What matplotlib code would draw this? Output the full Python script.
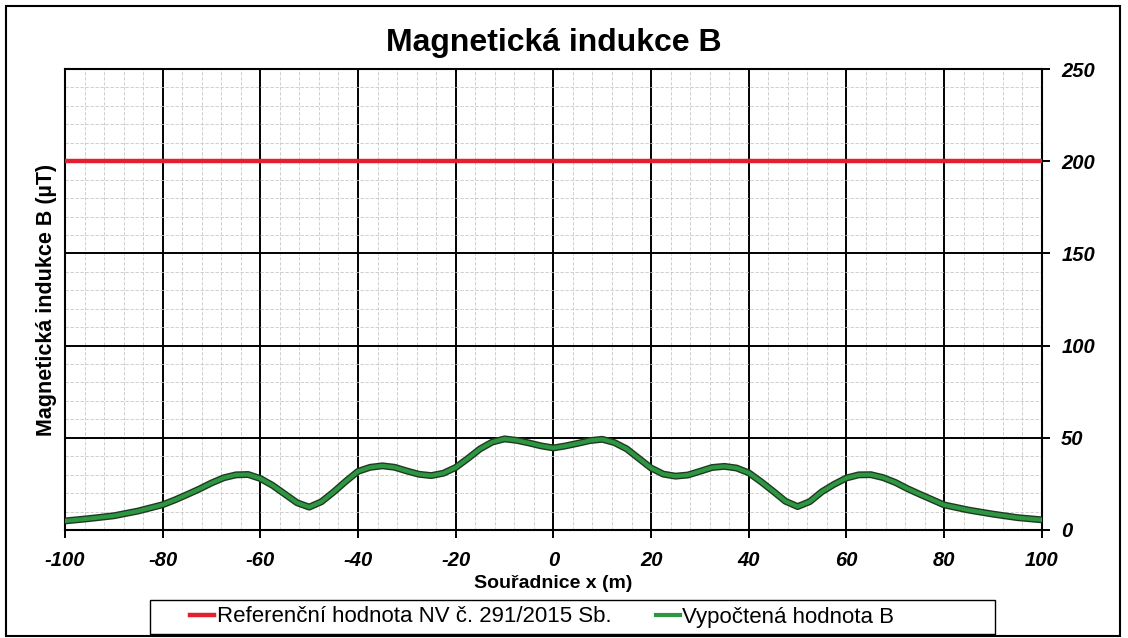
#!/usr/bin/env python3

import matplotlib.pyplot as plt
from matplotlib.patches import Rectangle
from matplotlib.ticker import MultipleLocator

# Souřadnice x (m) a vypočtená magnetická indukce B (uT)
x_pos = [-100, -95, -90, -85, -80, -77.5, -75, -72.5, -70, -67.5, -65, -62.5,
         -60, -57.5, -55, -52.5, -50, -47.5, -45, -42.5, -40, -37.5, -35,
         -32.5, -30, -27.5, -25, -22.5, -20, -17.5, -15, -12.5, -10, -7.5,
         -5, -2.5, 0, 2.5, 5, 7.5, 10, 12.5, 15, 17.5, 20, 22.5, 25, 27.5,
         30, 32.5, 35, 37.5, 40, 42.5, 45, 47.5, 50, 52.5, 55, 57.5, 60,
         62.5, 65, 67.5, 70, 72.5, 75, 77.5, 80, 85, 90, 95, 100]
b_calc = [4.9, 6.2, 7.7, 10.3, 13.7, 16.3, 19.2, 22.2, 25.5, 28.3, 29.9, 30.1,
          27.9, 24.2, 19.5, 14.8, 12.4, 15.3, 20.6, 26.4, 31.8, 34.0, 34.8,
          34.0, 32.0, 30.2, 29.5, 30.8, 33.9, 38.8, 44.0, 47.7, 49.4, 48.6,
          47.2, 45.6, 44.5, 45.6, 47.0, 48.5, 49.2, 47.4, 44.0, 38.8, 33.6,
          30.3, 29.2, 29.8, 31.8, 33.9, 34.5, 33.6, 31.0, 26.2, 21.0, 15.6,
          12.7, 15.4, 20.8, 24.8, 28.2, 29.9, 30.0, 28.4, 25.8, 22.4, 19.4,
          16.5, 13.6, 10.8, 8.6, 6.7, 5.5]

# Referenční hodnota podle NV č. 291/2015 Sb.
x_ref = [-100, 100]
b_ref = [200, 200]

x_ticks = [-100, -80, -60, -40, -20, 0, 20, 40, 60, 80, 100]
y_ticks = [0, 50, 100, 150, 200, 250]

plt.rcParams['font.family'] = ['Liberation Sans', 'DejaVu Sans']
plt.rcParams['axes.unicode_minus'] = False  # obyčejný spojovník jako v Excelu

fig = plt.figure(figsize=(11.28, 6.38), dpi=100)
ax = fig.add_axes([0.0576, 0.1693, 0.866, 0.7225])

ax.plot(x_ref, b_ref, color='#e3202f', linewidth=3.2,
        label='Referenční hodnota NV č. 291/2015 Sb.', zorder=4)
ax.plot(x_pos, b_calc, color='#1e3a22', linewidth=5, zorder=4,
        solid_joinstyle='round')  # tmavý okraj
ax.plot(x_pos, b_calc, color='#2d9640', linewidth=3,
        label='Vypočtená hodnota B', zorder=5, solid_joinstyle='round')

ax.set_xlim(-100, 100)
ax.set_ylim(0, 250)
ax.set_xticks(x_ticks)
ax.set_yticks(y_ticks)
ax.xaxis.set_minor_locator(MultipleLocator(4))
ax.yaxis.set_minor_locator(MultipleLocator(10))

ax.grid(which='major', color='black', linewidth=1.4)
ax.grid(which='minor', color='#c8c8c8', linewidth=0.6, linestyle=(0, (4, 2)))
ax.set_axisbelow(True)

for s in ax.spines.values():
    s.set_linewidth(1.5)

ax.yaxis.tick_right()
ax.tick_params(which='major', direction='out', length=6, width=1.4,
               labelsize=14.5)
ax.tick_params(which='minor', length=0)
for lbl in ax.get_xticklabels() + ax.get_yticklabels():
    lbl.set_fontweight('bold')
    lbl.set_fontstyle('italic')
ax.tick_params(axis='x', pad=9)
ax.tick_params(axis='y', pad=8)

ax.set_title('Magnetická indukce B', fontsize=23, fontweight='bold', pad=13)
ax.set_xlabel('Souřadnice x (m)', fontsize=14, fontweight='bold', labelpad=4)
ax.set_ylabel('Magnetická indukce B (µT)', fontsize=15.5, fontweight='bold',
              labelpad=6)
ax.yaxis.set_label_position('left')

leg = fig.legend(loc='center left', ncol=2, frameon=False,
                 bbox_to_anchor=(190 / 1128, 21 / 638),
                 fontsize=16, handlelength=1.1, handletextpad=0.1,
                 columnspacing=2.0, borderpad=0, borderaxespad=0)

# rámeček legendy
fig.patches.append(Rectangle((150 / 1128, 4 / 638), 845 / 1128, 34 / 638,
                             transform=fig.transFigure, fill=False,
                             edgecolor='black', linewidth=1.0))
# rámeček kolem celého obrázku
fig.patches.append(Rectangle((6 / 1128, 2 / 638), 1114 / 1128, 630 / 638,
                             transform=fig.transFigure, fill=False,
                             edgecolor='black', linewidth=1.5))

fig.savefig('out.png', dpi=100)
